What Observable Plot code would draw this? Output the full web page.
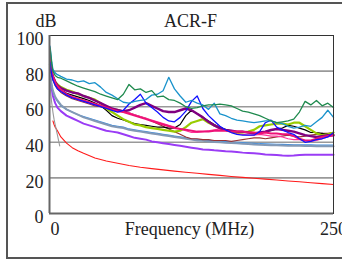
<!DOCTYPE html>
<html>
<head>
<meta charset="utf-8">
<script src="https://cdn.jsdelivr.net/npm/d3@7"></script>
<script src="https://cdn.jsdelivr.net/npm/@observablehq/plot@0.6"></script>
<style>
  html, body { margin: 0; padding: 0; background: #fff; width: 342px; height: 260px; overflow: hidden; }
  #box { position: absolute; left: 6px; top: 2px; width: 400px; height: 253px; border: 2px solid #555; }
  #chart { position: absolute; left: 0; top: 0; }
</style>
</head>
<body>
<div id="box"></div>
<div id="chart"></div>
<script>
const titleText = "ACR-F";
const yUnit = "dB";
const xLabel = "Frequency (MHz)";
const yTicks = [0, 20, 40, 60, 80, 100];
const gridY = [20, 40, 60, 80];
const xTicks = [0, 250];

const freq = [0.5,1,2,3,5,7,10,15,20,25,30,35,40,45,50,55,60,65,70,75,80,85,90,95,100,105,110,115,120,125,130,135,140,145,150,155,160,165,170,175,180,185,190,195,200,205,210,215,220,225,230,235,240,245,250];

const teal = [94,91,85,81,79,78,77,75.5,75,74, 74.5,73,73.5,71,68,66.5,64.5,62.5,62,63, 63.5,64,66.5,67,69,76.5,70,66,62.5,63.5, 62,61,58.5,62,56,55,53.5,52.5,52,51.5, 51,51.5,52,52,51,50.5,49,48,48.5,49.5, 49,51.5,54,58,54];
const green = [93,90,84,80,77.5,76.5,76,74.5,73,71.5, 70.5,69.5,68.5,67,66,65,64,67,72.5,69.5, 70,68,69,65.5,66,64,63.5,62,60,59, 59.5,60.5,61,61,61.5,61,60.5,59,57.5,57, 56,55,53.5,52,51,51.5,52,53,57,63, 61,63.5,60.5,62,59.5];
const blue = [85,82,78,75,72,70,68.5,66.5,65,64, 63,62,61,60,59,58,57,58,61.5,64, 67,62,59.5,57,54,52,51.5,54,57.5,63, 66,59,55,52,49,47,45.5,44.5,44,44, 44,46,51,52.5,48.5,47,45.5,44.5,42,40, 40.5,41.5,42,43,45.5];
const darkPurple = [84,82,79,77,74,72,70.5,69,68,67.5, 66,65,63.5,62,60.5,59,58,57.5,58,59.5, 61,62,60.5,59,57.5,57,57,58,59,58, 56,54,51.5,49.5,48,47,46.5,46,46,45.5, 45,45.5,46,47,47.5,47,46.5,46,45,44, 43.5,43,43.5,44,44];
const yellowGreen = [84,82,79,77,74,72.5,71,69.5,68.5,67, 66,65,64,62,59,57,55,53,51.5,50, 49.5,48.5,48,47.5,47,46.5,46,46.5,48.5,51, 52,53,51,49.5,48,47,46,45.5,45.5,46, 47,49,49.5,50,50.5,50.5,50,51,51,49, 47,45,44,44.5,45.5];
const black = [85,82,78,76,73,71,69.5,67.5,66.5,65.5, 64.5,63.5,62,60.5,58,55,53.5,52.5,51.5,50.5, 50,49.5,49,48.5,48.5,48,48,50,55,58, 56,54,52,50,48.5,47,46.5,46,45.5,45.5, 45,45,46,46.5,47.5,48,49.5,49,48,47, 45.5,45.5,45,44.5,44];
const magenta = [89,85,80,77,73.5,71.5,69.5,67,65.5,64.5, 63.5,62.5,61.5,60.5,59.5,58.5,57.5,57,56,55, 54,53,52,51,50,49,48,47.5,47,46.5, 46,46,46,46.5,46.5,46.5,46,46,46,45.5, 45.5,45,45.5,45,45,44.5,44.5,43.5,42,41, 41,42,43,43.5,44];
const hotPink = [87,84,79,76,72.5,70.5,69,66.5,65,64, 63,62,61,60.5,60,59,58,57,56.5,55.5, 54.5,53.5,52.5,51.5,50.5,49.5,48.5,47.5,46.5,45.5, 45.5,46,46.5,47,47.5,47,46,45,44.5,44, 44,44.5,44,43.5,43.5,43,42,41.5,41.5,41, 40.5,41,42,43,44];
const brown = [85,82,78,75,72,70,68,66,64.5,63.5, 62.5,61.5,60.5,60,59.5,59,58.5,57.5,56.5,55.5, 54.5,53.5,52,50.5,49,47.5,46,44.5,43,42, 42,41.5,41.5,41,41,41,40.5,41,41.5,42, 42.5,42.5,42,42.5,43,43.5,44,43.5,43,43.5, 44,44.5,45,45,45.5];
const grayBlue = [80,76,72,69,65.5,63.5,61,58.5,57,55.5, 54,53,52,51,50,49,48.5,48,47,46.5, 46,45.5,45,44.5,44,43.5,43,42.5,42,41.5, 41,40.8,40.5,40.2,40,39.8,39.6,39.4,39.2,39, 38.8,38.6,38.5,38.4,38.3,38.2,38.1,38,38,37.9, 37.9,37.8,37.8,37.8,37.8];
const lightBlue = [79,75.5,71.5,68.5,65,63,60.5,58.5,57,55.5, 54.5,53.5,52.5,51.5,50.5,49.5,49,48.5,47.5,47, 46.5,46,45.5,45,44.5,44,43.5,43,42.5,42, 41.6,41.4,41.1,40.8,40.6,40.4,40.2,40,39.8,39.6, 39.4,39.2,39.1,39,38.9,38.8,38.7,38.6,38.6,38.5, 38.5,38.4,38.4,38.4,38.4];
const violet = [80,75,70,66,62,59.5,57.5,55,53.5,52, 50.5,49.5,48.5,47.5,46.5,46,45.5,44.5,43.5,42.5, 42,41.5,40.5,40,39.5,39,38.5,38,37.5,37, 36.5,36,35.8,35.5,35.3,35,34.8,34.5,34.2,34, 33.8,33.5,33.2,33,32.8,32.6,32.5,32.6,32.8,33, 33,33,33,33,33];

const redFreq = [3,4,5,7,10,15,20,25,30,40,50,60,70,80,90,100,110,120,130,140,150,160,170,180,190,200,210,220,230,240,250];
const redLimit = [52,50,48.5,46.5,43,39.5,37,35.3,33.8,31.2,29.5,28.2,27,26,25.2,24.5,23.8,23.2,22.6,22,21.4,20.8,20.3,19.8,19.3,18.8,18.3,17.8,17.3,16.8,16.3];
const grayFreq = [0.5,1,2,3,4,5,6,7,8,9];
const grayShort = [75,68,62,57,53,50,47,44,41,38];

const rows = (fs, vs) => fs.map((f, i) => ({f, v: vs[i]}));

// drawing order and styles
const layers = [
  [rows(redFreq, redLimit), "#ff1a1a", 1.1],
  [rows(grayFreq, grayShort), "#9a9a9a", 1.1],
  [rows(freq, violet), "#9a3cf5", 2],
  [rows(freq, lightBlue), "#3d8ee0", 1.2],
  [rows(freq, grayBlue), "#8399b5", 2],
  [rows(freq, brown), "#993333", 1.2],
  [rows(freq, hotPink), "#ff3399", 1.2],
  [rows(freq, black), "#000000", 1.2],
  [rows(freq, yellowGreen), "#99cc00", 2.2],
  [rows(freq, darkPurple), "#800080", 2.4],
  [rows(freq, magenta), "#ee1177", 2],
  [rows(freq, blue), "#1010ff", 1.3],
  [rows(freq, teal), "#1a93cc", 1.3],
  [rows(freq, green), "#1f8a4e", 1.3]
];

const txt = {fill: "#222", lineAnchor: "middle"};

const chart = Plot.plot({
  width: 342,
  height: 260,
  marginLeft: 49,
  marginRight: 9,
  marginTop: 35,
  marginBottom: 47,
  x: {domain: [0, 250], axis: null},
  y: {domain: [0, 100], axis: null},
  style: {fontFamily: "'Liberation Serif', serif", fontSize: "18px", background: "transparent", overflow: "visible"},
  marks: [
    Plot.ruleY(gridY, {stroke: "#999", strokeWidth: 1.6}),
    ...layers.map(([data, color, w]) => Plot.line(data, {x: "f", y: "v", stroke: color, strokeWidth: w, strokeLinejoin: "round"})),
    Plot.frame({stroke: "#333", strokeWidth: 1}),
    Plot.ruleX([0], {stroke: "#666", strokeWidth: 2}),
    Plot.ruleY([0], {stroke: "#666", strokeWidth: 2}),
    Plot.text(yTicks, {y: d => d, text: d => String(d), frameAnchor: "left", textAnchor: "end", dx: -6, dy: 4, ...txt}),
    Plot.text([xTicks[0]], {x: d => d, text: d => String(d), frameAnchor: "bottom", textAnchor: "start", dx: 1, dy: 16, ...txt}),
    Plot.text([xTicks[1]], {x: d => d, text: d => String(d), frameAnchor: "bottom", dy: 16, ...txt}),
    Plot.text([xLabel], {text: d => d, frameAnchor: "bottom", dy: 16, dx: -2, letterSpacing: 0.8, ...txt}),
    Plot.text([titleText], {text: d => d, frameAnchor: "top", dy: -14, dx: -1, ...txt}),
    Plot.text([yUnit], {text: d => d, frameAnchor: "top-left", dx: -14, dy: -14, ...txt})
  ]
});
document.getElementById("chart").append(chart);
</script>
</body>
</html>
